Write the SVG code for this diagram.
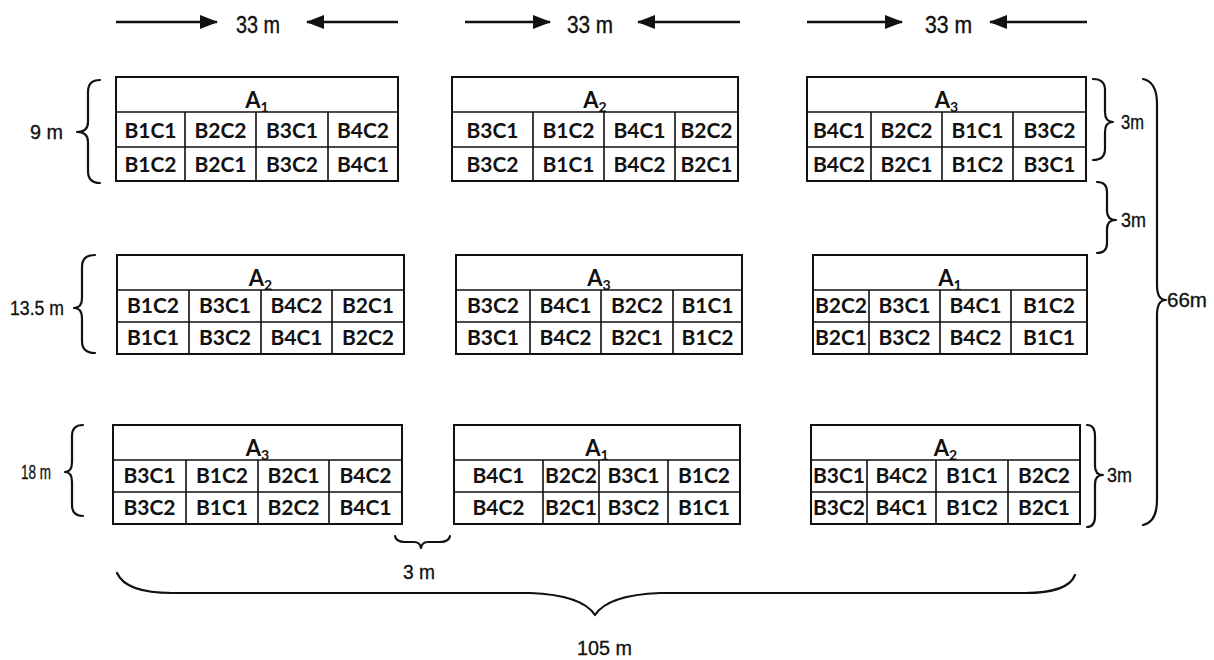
<svg xmlns="http://www.w3.org/2000/svg" width="1214" height="660" viewBox="0 0 1214 660">
<defs>
<marker id="ah" markerUnits="userSpaceOnUse" markerWidth="18" markerHeight="14" refX="17" refY="7" orient="auto">
<path d="M0,0 L18,7 L0,14 Z" fill="#111"/>
</marker>
<style>
.box{fill:#fff;stroke:#111;stroke-width:2}
.ln{stroke:#111;stroke-width:1.6;fill:none}
.c{font-family:Lato,"Open Sans",sans-serif;font-weight:bold;font-size:21px;fill:#111;text-anchor:middle}
.a{font-family:Lato,"Open Sans",sans-serif;font-weight:bold;font-size:22px;fill:#111;text-anchor:middle}
.s{font-size:14px}
.dim{font-family:"Liberation Sans",Arial,sans-serif;font-size:20px;fill:#111;stroke:#111;stroke-width:0.3}
.big{font-family:"Liberation Sans",Arial,sans-serif;font-size:24px;fill:#111;stroke:#111;stroke-width:0.4}
.br{fill:none;stroke:#111;stroke-width:2.2;stroke-linecap:round;stroke-linejoin:round}
.ar{stroke:#111;stroke-width:2.4;fill:none}
</style>
</defs>
<rect width="1214" height="660" fill="#fff"/>

<g id="r1b1">
<rect class="box" x="116" y="77" width="282" height="104"/>
<path class="ln" d="M116,112H398M116,147H398M185,112V181M256,112V181M328,112V181"/>
<text class="a" x="257" y="108">A<tspan class="s" dy="4">1</tspan></text>
<text class="c" x="150.5" y="138">B1C1</text><text class="c" x="220.5" y="138">B2C2</text><text class="c" x="292" y="138">B3C1</text><text class="c" x="363" y="138">B4C2</text>
<text class="c" x="150.5" y="172">B1C2</text><text class="c" x="220.5" y="172">B2C1</text><text class="c" x="292" y="172">B3C2</text><text class="c" x="363" y="172">B4C1</text>
</g>
<g id="r1b2">
<rect class="box" x="452" y="77" width="286" height="104"/>
<path class="ln" d="M452,112H738M452,147H738M533,112V181M604,112V181M675,112V181"/>
<text class="a" x="595" y="108">A<tspan class="s" dy="4">2</tspan></text>
<text class="c" x="492.5" y="138">B3C1</text><text class="c" x="568.5" y="138">B1C2</text><text class="c" x="639.5" y="138">B4C1</text><text class="c" x="706.5" y="138">B2C2</text>
<text class="c" x="492.5" y="172">B3C2</text><text class="c" x="568.5" y="172">B1C1</text><text class="c" x="639.5" y="172">B4C2</text><text class="c" x="706.5" y="172">B2C1</text>
</g>
<g id="r1b3">
<rect class="box" x="807" y="77" width="279" height="104"/>
<path class="ln" d="M807,112H1086M807,147H1086M871,112V181M942,112V181M1013,112V181"/>
<text class="a" x="946.5" y="108">A<tspan class="s" dy="4">3</tspan></text>
<text class="c" x="839" y="138">B4C1</text><text class="c" x="906.5" y="138">B2C2</text><text class="c" x="977.5" y="138">B1C1</text><text class="c" x="1049.5" y="138">B3C2</text>
<text class="c" x="839" y="172">B4C2</text><text class="c" x="906.5" y="172">B2C1</text><text class="c" x="977.5" y="172">B1C2</text><text class="c" x="1049.5" y="172">B3C1</text>
</g>

<g id="r2b1">
<rect class="box" x="117" y="255" width="287" height="99"/>
<path class="ln" d="M117,290H404M117,322H404M189,290V354M261,290V354M332,290V354"/>
<text class="a" x="260.5" y="286">A<tspan class="s" dy="4">2</tspan></text>
<text class="c" x="153" y="313">B1C2</text><text class="c" x="225" y="313">B3C1</text><text class="c" x="296.5" y="313">B4C2</text><text class="c" x="368" y="313">B2C1</text>
<text class="c" x="153" y="345">B1C1</text><text class="c" x="225" y="345">B3C2</text><text class="c" x="296.5" y="345">B4C1</text><text class="c" x="368" y="345">B2C2</text>
</g>
<g id="r2b2">
<rect class="box" x="456" y="255" width="286" height="99"/>
<path class="ln" d="M456,290H742M456,322H742M530,290V354M601,290V354M673,290V354"/>
<text class="a" x="599" y="286">A<tspan class="s" dy="4">3</tspan></text>
<text class="c" x="493" y="313">B3C2</text><text class="c" x="565.5" y="313">B4C1</text><text class="c" x="637" y="313">B2C2</text><text class="c" x="707.5" y="313">B1C1</text>
<text class="c" x="493" y="345">B3C1</text><text class="c" x="565.5" y="345">B4C2</text><text class="c" x="637" y="345">B2C1</text><text class="c" x="707.5" y="345">B1C2</text>
</g>
<g id="r2b3">
<rect class="box" x="813" y="255" width="274" height="99"/>
<path class="ln" d="M813,290H1087M813,322H1087M869,290V354M940,290V354M1011,290V354"/>
<text class="a" x="950" y="286">A<tspan class="s" dy="4">1</tspan></text>
<text class="c" x="841" y="313">B2C2</text><text class="c" x="904.5" y="313">B3C1</text><text class="c" x="975.5" y="313">B4C1</text><text class="c" x="1049" y="313">B1C2</text>
<text class="c" x="841" y="345">B2C1</text><text class="c" x="904.5" y="345">B3C2</text><text class="c" x="975.5" y="345">B4C2</text><text class="c" x="1049" y="345">B1C1</text>
</g>

<g id="r3b1">
<rect class="box" x="113" y="425" width="289" height="99"/>
<path class="ln" d="M113,460H402M113,492H402M186,460V524M258,460V524M329,460V524"/>
<text class="a" x="257.5" y="456">A<tspan class="s" dy="4">3</tspan></text>
<text class="c" x="149.5" y="483">B3C1</text><text class="c" x="222" y="483">B1C2</text><text class="c" x="293.5" y="483">B2C1</text><text class="c" x="365.5" y="483">B4C2</text>
<text class="c" x="149.5" y="515">B3C2</text><text class="c" x="222" y="515">B1C1</text><text class="c" x="293.5" y="515">B2C2</text><text class="c" x="365.5" y="515">B4C1</text>
</g>
<g id="r3b2">
<rect class="box" x="454" y="425" width="286" height="99"/>
<path class="ln" d="M454,460H740M454,492H740M543,460V524M599,460V524M668,460V524"/>
<text class="a" x="597" y="456">A<tspan class="s" dy="4">1</tspan></text>
<text class="c" x="498.5" y="483">B4C1</text><text class="c" x="571" y="483">B2C2</text><text class="c" x="633.5" y="483">B3C1</text><text class="c" x="704" y="483">B1C2</text>
<text class="c" x="498.5" y="515">B4C2</text><text class="c" x="571" y="515">B2C1</text><text class="c" x="633.5" y="515">B3C2</text><text class="c" x="704" y="515">B1C1</text>
</g>
<g id="r3b3">
<rect class="box" x="811" y="425" width="269" height="99"/>
<path class="ln" d="M811,460H1080M811,492H1080M867,460V524M936,460V524M1008,460V524"/>
<text class="a" x="945.5" y="456">A<tspan class="s" dy="4">2</tspan></text>
<text class="c" x="839" y="483">B3C1</text><text class="c" x="901.5" y="483">B4C2</text><text class="c" x="972" y="483">B1C1</text><text class="c" x="1044" y="483">B2C2</text>
<text class="c" x="839" y="515">B3C2</text><text class="c" x="901.5" y="515">B4C1</text><text class="c" x="972" y="515">B1C2</text><text class="c" x="1044" y="515">B2C1</text>
</g>

<g id="connectors">
<line class="ar" x1="116" y1="22" x2="217" y2="22" marker-end="url(#ah)"/>
<line class="ar" x1="398" y1="22" x2="307" y2="22" marker-end="url(#ah)"/>
<line class="ar" x1="465" y1="22" x2="550" y2="22" marker-end="url(#ah)"/>
<line class="ar" x1="740" y1="22" x2="638" y2="22" marker-end="url(#ah)"/>
<line class="ar" x1="807" y1="22" x2="902" y2="22" marker-end="url(#ah)"/>
<line class="ar" x1="1087" y1="22" x2="990" y2="22" marker-end="url(#ah)"/>

<path class="br" d="M100,80 Q88,80 88,92 L88,122 Q88,132 77,132 Q88,132 88,142 L88,171 Q88,183 100,183"/>
<path class="br" d="M95,255 Q82,255 82,267 L82,298 Q82,308 74,308 Q82,308 82,318 L82,341 Q82,353 95,353"/>
<path class="br" d="M83,425 Q72,425 72,436 L72,462 Q72,472 65,472 Q72,472 72,482 L72,505 Q72,516 83,516"/>

<path class="br" d="M1093,79 Q1105,79 1105,90 L1105,112 Q1105,122 1113,122 Q1105,122 1105,132 L1105,149 Q1105,160 1093,160"/>
<path class="br" d="M1097,182 Q1107,182 1107,192 L1107,211 Q1107,220 1116,220 Q1107,220 1107,229 L1107,243 Q1107,253 1097,253"/>
<path class="br" d="M1087,425 Q1095,425 1095,436 L1095,466 Q1095,475 1103,475 Q1095,475 1095,484 L1095,516 Q1095,527 1087,527"/>
<path class="br" d="M1143,79 Q1157,82 1157,104 L1157,285 Q1157,300 1166,300 Q1157,300 1157,315 L1157,500 Q1157,522 1143,525"/>

<path class="br" d="M395,536 Q396,542 405,542 L414,542 Q420,542 421,548 Q422,542 428,542 L440,542 Q449,542 450,536"/>
<path class="br" d="M117,573 Q126,593 172,593 L530,593 Q582,595 595,615 Q608,595 660,593 L1025,593 Q1068,593 1075,575"/>
</g>

<g id="labels">
<text class="big" x="236" y="33" textLength="44" lengthAdjust="spacingAndGlyphs">33 m</text>
<text class="big" x="567" y="33" textLength="46" lengthAdjust="spacingAndGlyphs">33 m</text>
<text class="big" x="925" y="33" textLength="47" lengthAdjust="spacingAndGlyphs">33 m</text>
<text class="dim" x="30" y="139" textLength="33" lengthAdjust="spacingAndGlyphs">9 m</text>
<text class="dim" x="10" y="315" textLength="54" lengthAdjust="spacingAndGlyphs">13.5 m</text>
<text class="dim" x="21" y="479" textLength="30" lengthAdjust="spacingAndGlyphs">18 m</text>
<text class="dim" x="1121" y="129" textLength="23" lengthAdjust="spacingAndGlyphs">3m</text>
<text class="dim" x="1121" y="227" textLength="25" lengthAdjust="spacingAndGlyphs">3m</text>
<text class="dim" x="1107" y="482" textLength="25" lengthAdjust="spacingAndGlyphs">3m</text>
<text class="dim" x="1167" y="307" textLength="40" lengthAdjust="spacingAndGlyphs">66m</text>
<text class="dim" x="403" y="579" textLength="32" lengthAdjust="spacingAndGlyphs">3 m</text>
<text class="dim" x="577" y="655" textLength="55" lengthAdjust="spacingAndGlyphs">105 m</text>
</g>
</svg>
